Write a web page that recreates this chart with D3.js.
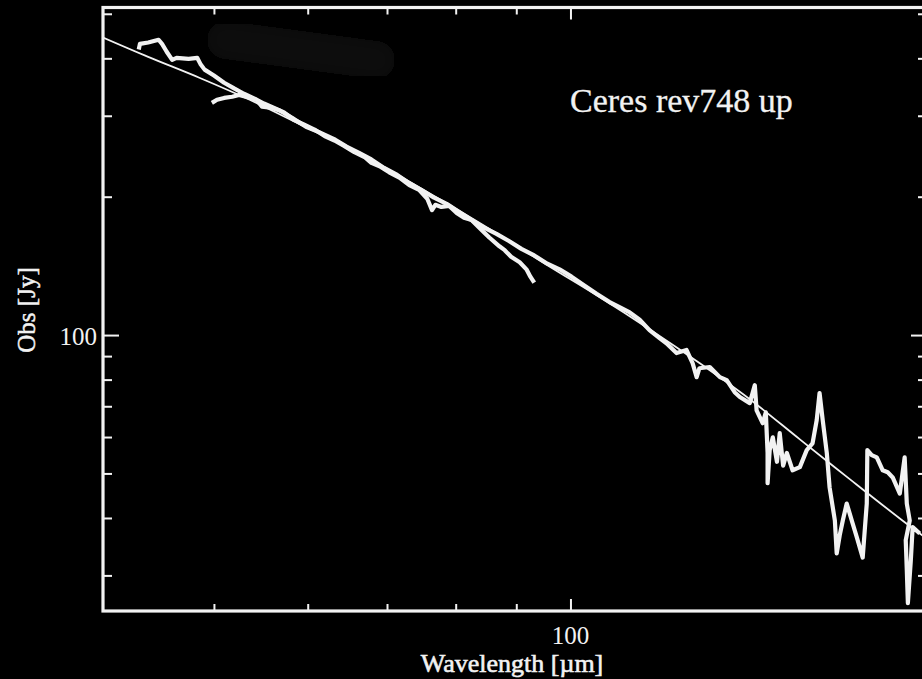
<!DOCTYPE html>
<html>
<head>
<meta charset="utf-8">
<script src="https://cdn.jsdelivr.net/npm/d3@7"></script>
<style>
  html, body { margin: 0; padding: 0; background: #000; }
  svg { display: block; }
</style>
</head>
<body>
<svg id="chart" width="922" height="679"></svg>
<script>
// ---- Texts ----
const titleText = "Ceres rev748 up";
const xLabelText = "Wavelength [µm]";
const yLabelText = "Obs [Jy]";

// ---- Axis ranges and ticks (log-log) ----
const xDomain = [40.3, 200];
const yDomain = [25.1, 516];
const xMajorTicks = [100];
const xMinorTicks = [50, 60, 70, 80, 90];
const yMajorTicks = [100];
const yMinorTicks = [30, 40, 50, 60, 70, 80, 90, 200, 300, 400, 500];

// ---- Model SED (thin line) ----
const modelWave = [40.3, 44.0, 48.6, 53.6, 59.0, 65.0, 71.7, 79.0, 87.1, 96.0, 105.8, 116.6, 128.5, 141.7, 156.2, 172.1, 189.7, 199.2];
const modelFlux = [444, 403, 363, 325, 288, 256, 222, 192, 165, 141, 121, 103, 86.9, 72.5, 59.3, 48.6, 39.9, 36.3];

// ---- Observed spectrum, short-wavelength band ----
const bandAWave = [43.2, 43.3, 44.0, 44.9, 45.2, 45.6, 46.1, 46.5, 47.6, 48.4, 48.7, 49.1, 50.0, 51.0, 52.0, 53.0, 54.1, 55.1, 56.2, 57.3,
                   58.4, 59.6, 60.8, 62.0, 63.2, 64.4, 65.7, 67.0, 67.9, 69.0, 70.3, 71.7, 73.1, 74.5, 75.7, 76.4, 76.9, 77.8, 79.0, 80.2,
                   81.3, 82.5, 83.8, 85.4, 87.1, 88.0, 89.1, 90.6, 91.8, 92.5, 93.2];
const bandAFlux = [418, 430, 433, 439, 430, 414, 397, 401, 399, 401, 389, 378, 367, 354, 344, 335, 327, 319, 312, 305,
                   294, 287, 280, 271, 265, 258, 250, 244, 237, 233, 226, 220, 212, 207, 198, 187, 192, 190, 191, 184,
                   180, 178, 171, 163, 156, 153, 148, 144, 139, 134, 130];

// ---- Observed spectrum, long-wavelength band ----
const bandBWave = [49.8, 50.3, 51.0, 51.8, 52.5, 53.2, 54.3, 54.9, 56.0, 56.8, 58.2, 59.8, 61.4, 63.3, 64.7, 66.3, 67.9, 69.6, 71.4, 73.1,
                   74.8, 76.7, 78.6, 80.6, 82.5, 84.6, 86.6, 88.8, 90.9, 93.2, 95.6, 97.9, 100.2, 102.8, 105.2, 107.9, 110.0, 112.2, 114.4, 116.6,
                   118.9, 120.5, 122.9, 125.3, 126.8, 127.8, 128.5, 131.1, 133.7, 135.5, 137.6, 139.0, 141.7, 143.1, 143.6, 145.3, 146.2, 146.7, 146.7, 147.3,
                   148.2, 149.4, 150.2, 151.2, 152.3, 154.0, 156.2, 158.3, 160.1, 161.4, 162.3, 163.3, 164.6, 165.5, 167.2, 167.8, 168.8, 169.8, 171.1, 173.1,
                   174.5, 176.5, 177.2, 177.9, 178.1, 179.6, 181.4, 183.5, 185.3, 187.1, 189.7, 191.5, 192.3, 193.4, 191.9, 192.3, 192.7, 193.8, 194.5, 197.2];
const bandBFlux = [320, 325, 328, 330, 333, 330, 325, 314, 312, 308, 297, 284, 276, 266, 257, 249, 241, 231, 223, 214,
                   207, 199, 193, 185, 178, 171, 166, 160, 154, 149, 143, 139, 134, 128, 123, 118, 115, 112, 108, 102.5,
                   98.5, 96.0, 91.4, 92.8, 86.9, 81.0, 84.7, 85.2, 81.0, 79.8, 75.1, 73.3, 71.1, 77.8, 68.6, 64.3, 67.9, 55.4, 47.6, 56.2,
                   59.9, 53.0, 61.2, 52.0, 55.4, 50.8, 51.6, 56.2, 58.1, 65.3, 74.8, 65.3, 55.4, 46.6, 39.5, 33.5, 36.7, 39.5, 43.0, 38.9,
                   36.3, 32.8, 37.6, 43.0, 56.2, 54.8, 54.2, 50.8, 50.3, 49.0, 45.2, 54.2, 43.0, 39.5, 35.8, 30.8, 26.1, 32.3, 38.2, 37.0];

// ---- Layout ----
const W = 922, H = 679;
const plot = { left: 103, right: 927, top: 7.5, bottom: 611 };
const fg = "#f2f2f2";
const serif = "'Liberation Serif', 'DejaVu Serif', serif";

const svg = d3.select("#chart");
svg.append("rect").attr("width", W).attr("height", H).attr("fill", "#000");

const defs = svg.append("defs");
defs.append("filter").attr("id", "soft").attr("x", "-30%").attr("y", "-80%").attr("width", "160%").attr("height", "260%")
  .append("feGaussianBlur").attr("stdDeviation", 7);
defs.append("clipPath").attr("id", "plotClip")
  .append("rect")
  .attr("x", plot.left).attr("y", plot.top)
  .attr("width", plot.right - plot.left).attr("height", plot.bottom - plot.top);

// faint smear near the top of the panel
svg.append("path")
  .attr("d", "M226,40 L376,60")
  .attr("stroke", "#0e0e0e").attr("stroke-width", 38)
  .attr("stroke-linecap", "round").attr("fill", "none")
  .attr("filter", "url(#soft)");

const x = d3.scaleLog().domain(xDomain).range([plot.left, plot.right]);
const y = d3.scaleLog().domain(yDomain).range([plot.bottom, plot.top]);

// ---- Axes (ticks point inward on all four sides) ----
function addAxis(axisFn, scale, transform, ticks, len) {
  const g = svg.append("g").attr("transform", transform)
    .call(axisFn(scale).tickValues(ticks).tickSize(len).tickFormat(""));
  g.select(".domain").remove();
  g.selectAll(".tick line").attr("stroke", fg).attr("stroke-width", 2);
  return g;
}
// bottom / top
addAxis(d3.axisTop, x, `translate(0,${plot.bottom})`, xMinorTicks, 7);
addAxis(d3.axisTop, x, `translate(0,${plot.bottom})`, xMajorTicks, 12);
addAxis(d3.axisBottom, x, `translate(0,${plot.top})`, xMinorTicks, 7);
addAxis(d3.axisBottom, x, `translate(0,${plot.top})`, xMajorTicks, 12);
// left / right
addAxis(d3.axisRight, y, `translate(${plot.left},0)`, yMinorTicks, 9);
addAxis(d3.axisRight, y, `translate(${plot.left},0)`, yMajorTicks, 16);
addAxis(d3.axisLeft, y, `translate(${plot.right},0)`, yMinorTicks, 9);
addAxis(d3.axisLeft, y, `translate(${plot.right},0)`, yMajorTicks, 16);

// frame
svg.append("rect")
  .attr("x", plot.left).attr("y", plot.top)
  .attr("width", plot.right - plot.left).attr("height", plot.bottom - plot.top)
  .attr("fill", "none").attr("stroke", fg).attr("stroke-width", 3.2);

// tick labels
svg.selectAll("text.xtick").data(xMajorTicks).enter().append("text")
  .attr("class", "xtick")
  .attr("x", d => x(d)).attr("y", 644)
  .attr("text-anchor", "middle")
  .attr("font-family", serif).attr("font-size", 25).attr("fill", fg)
  .text(d => d3.format("d")(d));
svg.selectAll("text.ytick").data(yMajorTicks).enter().append("text")
  .attr("class", "ytick")
  .attr("x", 97).attr("y", d => y(d) + 9.5)
  .attr("text-anchor", "end")
  .attr("font-family", serif).attr("font-size", 25).attr("fill", fg)
  .text(d => d3.format("d")(d));

// axis titles
svg.append("text")
  .attr("x", 512).attr("y", 672)
  .attr("text-anchor", "middle")
  .attr("font-family", serif).attr("font-size", 26)
  .attr("fill", fg).attr("stroke", fg).attr("stroke-width", 0.6)
  .text(xLabelText);
svg.append("text")
  .attr("transform", "translate(35,310) rotate(-90)")
  .attr("text-anchor", "middle")
  .attr("font-family", serif).attr("font-size", 25)
  .attr("fill", fg).attr("stroke", fg).attr("stroke-width", 0.5)
  .text(yLabelText);

// panel title
svg.append("text")
  .attr("x", 570).attr("y", 112)
  .attr("font-family", serif).attr("font-size", 34).attr("fill", fg)
  .attr("stroke", fg).attr("stroke-width", 0.3)
  .text(titleText);

// ---- Data ----
const dataG = svg.append("g").attr("clip-path", "url(#plotClip)");

const model = modelWave.map((w, i) => [w, modelFlux[i]]);
const bandA = bandAWave.map((w, i) => [w, bandAFlux[i]]);
const bandB = bandBWave.map((w, i) => [w, bandBFlux[i]]);

const lineLin = d3.line().x(d => x(d[0])).y(d => y(d[1]));
const lineSmooth = d3.line().x(d => x(d[0])).y(d => y(d[1])).curve(d3.curveCatmullRom);

dataG.append("path").datum(bandA)
  .attr("d", lineLin).attr("fill", "none")
  .attr("stroke", fg).attr("stroke-width", 4.2)
  .attr("stroke-linejoin", "round");
dataG.append("path").datum(bandB)
  .attr("d", lineLin).attr("fill", "none")
  .attr("stroke", fg).attr("stroke-width", 4.2)
  .attr("stroke-linejoin", "round");
dataG.append("path").datum(model)
  .attr("d", lineSmooth).attr("fill", "none")
  .attr("stroke", fg).attr("stroke-width", 1.8);
</script>
</body>
</html>
